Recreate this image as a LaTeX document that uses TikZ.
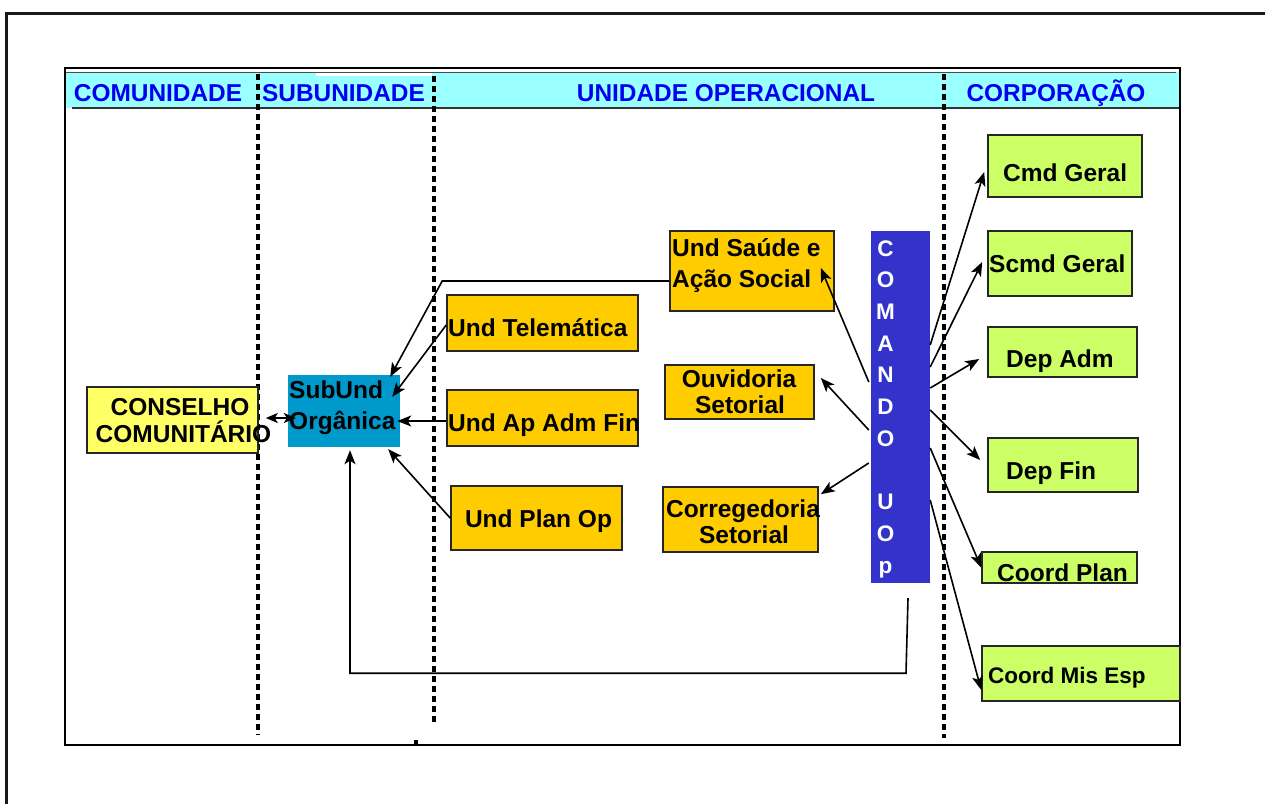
\documentclass[tikz,border=0pt]{standalone}
\usepackage{fontspec}
\setmainfont{Liberation Sans}
\usetikzlibrary{arrows.meta,calc}

\definecolor{hdrcyan}{HTML}{99FFFF}
\definecolor{hdrblue}{HTML}{0000F0}
\definecolor{consyellow}{HTML}{FFFF66}
\definecolor{subblue}{HTML}{0099CC}
\definecolor{undorange}{HTML}{FFCC00}
\definecolor{uopblue}{HTML}{3333CC}
\definecolor{corpgreen}{HTML}{CCFF66}

\tikzset{
  box/.style={rectangle, draw=black!85, line width=1.6pt, inner sep=0pt},
  flatbox/.style={rectangle, draw=none, inner sep=0pt},
  lbl/.style={font=\bfseries\fontsize{24.5}{28}\selectfont, inner sep=0pt, anchor=base west},
  hdr/.style={font=\bfseries\fontsize{24.4}{28}\selectfont, text=hdrblue, inner sep=0pt, anchor=base},
  uopl/.style={font=\bfseries\fontsize{22.5}{26}\selectfont, text=white, inner sep=0pt, anchor=base},
  arr/.style={line width=1.6pt, -{Stealth[length=14pt,width=11pt,inset=3.5pt]}},
  dblarr/.style={line width=1.6pt, {Stealth[length=12pt,width=10pt,inset=3pt]}-{Stealth[length=12pt,width=10pt,inset=3pt]}},
  sepline/.style={line width=4pt, dash pattern=on 5.5pt off 4.5pt},
}

\begin{document}
\begin{tikzpicture}[x=1pt,y=-1pt]
\useasboundingbox (0,0) rectangle (1265,803);
\clip (0,0) rectangle (1265,803);

% outer page frame
\draw[line width=3pt, black!90] (6,830) -- (6,13) -- (1290,13);

% header band
\fill[hdrcyan] (65,72) rectangle (1180,108);
\fill[white] (316,72) rectangle (432,76);
\draw[line width=1pt, black!70] (65,72) -- (1176,72);
\draw[line width=2pt, black!80] (72,108) -- (1180,108);

% inner frame
\draw[line width=2.5pt] (65,68) rectangle (1180,745);

% column titles
\node[hdr] (hcom) at (158,101) {COMUNIDADE};
\node[hdr] (hsub) at (343.5,101) {SUBUNIDADE};
\node[hdr] (huop) at (726,101) {UNIDADE OPERACIONAL};
\node[hdr] (hcorp) at (1056,101) {CORPORAÇÃO};

% column separators
\draw[sepline] (258,74) -- (258,735);
\draw[sepline] (434,76) -- (434,725);
\draw[sepline] (944,74) -- (944,738);
\fill (414,740) rectangle (418,745);

% boxes
\node[box, fill=consyellow, minimum width=171pt, minimum height=66pt] (cons) at (172.5,420) {};
\node[flatbox, fill=subblue, minimum width=112pt, minimum height=72pt] (sub) at (344,411) {};
\node[box, fill=undorange, minimum width=164pt, minimum height=80pt] (saude) at (752,271) {};
\node[box, fill=undorange, minimum width=191pt, minimum height=56pt] (tele) at (542.5,323) {};
\node[box, fill=undorange, minimum width=191pt, minimum height=56pt] (apadm) at (542.5,418) {};
\node[box, fill=undorange, minimum width=171pt, minimum height=64pt] (uplan) at (536.5,518) {};
\node[box, fill=undorange, minimum width=149pt, minimum height=54pt] (ouv) at (739.5,392) {};
\node[box, fill=undorange, minimum width=155pt, minimum height=65pt] (corr) at (740.5,519.5) {};
\node[flatbox, fill=uopblue, minimum width=59pt, minimum height=352pt] (uop) at (900.5,407) {};
\node[box, fill=corpgreen, minimum width=154pt, minimum height=62pt] (cmd) at (1065,166) {};
\node[box, fill=corpgreen, minimum width=144pt, minimum height=65pt] (scmd) at (1060,263.5) {};
\node[box, fill=corpgreen, minimum width=149pt, minimum height=50pt] (dadm) at (1062.5,352) {};
\node[box, fill=corpgreen, minimum width=150pt, minimum height=54pt] (dfin) at (1063,465) {};
\node[box, fill=corpgreen, minimum width=155pt, minimum height=31pt] (cplan) at (1059.5,567.5) {};
\node[box, fill=corpgreen, minimum width=198pt, minimum height=55pt] (cmis) at (1081,673.5) {};

% box texts
\node[lbl, anchor=base] (tcons1) at (180,415) {CONSELHO};
\node[lbl, anchor=base] (tcons2) at (183.5,442) {COMUNITÁRIO};
\node[lbl] (tsub1) at (289,398) {SubUnd};
\node[lbl] (tsub2) at (289,429) {Orgânica};
\node[lbl] (tsaude1) at (672,256) {Und Saúde e};
\node[lbl] (tsaude2) at (672,287) {Ação Social};
\node[lbl] (ttele) at (448,336) {Und Telemática};
\node[lbl] (tapadm) at (448,431) {Und Ap Adm Fin};
\node[lbl, anchor=base] (tplan) at (538.5,527) {Und Plan Op};
\node[lbl, anchor=base] (touv1) at (739,387) {Ouvidoria};
\node[lbl, anchor=base] (touv2) at (740,413) {Setorial};
\node[lbl, anchor=base] (tcorr1) at (743,517) {Corregedoria};
\node[lbl, anchor=base] (tcorr2) at (744,543) {Setorial};
\node[lbl] (tcmd) at (1003,181) {Cmd Geral};
\node[lbl] (tscmd) at (989,272) {Scmd Geral};
\node[lbl] (tdadm) at (1006,367) {Dep Adm};
\node[lbl] (tdfin) at (1006,479) {Dep Fin};
\node[lbl] (tcplan) at (997,581) {Coord Plan};
\node[lbl, font=\bfseries\fontsize{22.5}{26}\selectfont] (tcmis) at (988,683) {Coord Mis Esp};

% vertical lettering of the command column
\foreach \ch/\k in {C/1,O/2,M/3,A/4,N/5,D/6,O/7,U/9,O/10,p/11}
  \node[uopl] (uopl\k) at (885.5,224.3+31.7*\k) {\ch};

% connectors toward the subunit
\draw[dblarr] ([shift={(7,-2)}]cons.east) -- ([shift={(8,7)}]sub.west);
\draw[arr] ([shift={(0,3)}]apadm.west) -- ([shift={(-3,10)}]sub.east);
\draw[arr] ([shift={(0,2)}]tele.west) -- ([shift={(-8,22)}]sub.north east);
\draw[arr] ([shift={(0,10)}]saude.west) -- ++(-227,0) -- ([shift={(-10,2)}]sub.north east);
\draw[arr] (uplan.west) -- ([shift={(-12,2)}]sub.south east);
\draw[arr] ([shift={(7.5,15)}]uop.south) -- ([shift={(5.5,90)}]uop.south)
  -- ([shift={(6,226)}]sub.south) -- ([shift={(6,3)}]sub.south);

% connectors from the command column to its sectors
\draw[arr] ([shift={(-2,-25)}]uop.west) -- ([shift={(-14,-3)}]saude.east);
\draw[arr] ([shift={(-2,23)}]uop.west) -- ([shift={(6,-14)}]ouv.east);
\draw[arr] ([shift={(-2,56)}]uop.west) -- ([shift={(2,8)}]corr.north east);

% connectors from the command column to the corporation
\draw[arr] ([shift={(0,-62)}]uop.east) -- ([shift={(-3,6)}]cmd.west);
\draw[arr] ([shift={(0,-40)}]uop.east) -- ([shift={(-5,-1.5)}]scmd.west);
\draw[arr] ([shift={(0,-19)}]uop.east) -- ([shift={(-8,7)}]dadm.west);
\draw[arr] ([shift={(0,3)}]uop.east) -- ([shift={(-7,-5)}]dfin.west);
\draw[arr] ([shift={(0,41)}]uop.east) -- (cplan.west);
\draw[arr] ([shift={(0,93)}]uop.east) -- ([shift={(0,16.5)}]cmis.west);
\end{tikzpicture}
\end{document}
